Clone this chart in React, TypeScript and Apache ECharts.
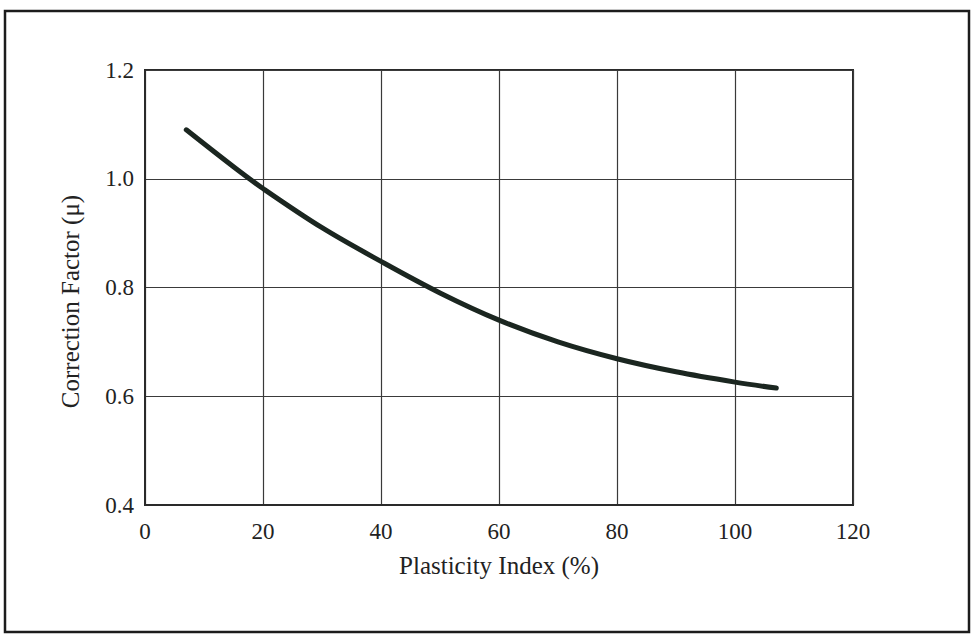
import React, { useEffect, useRef } from "react";
import * as echarts from "echarts";

const plasticityIndex = [7, 15, 20, 30, 40, 50, 60, 70, 80, 90, 100, 107];
const correctionFactor = [1.09, 1.022, 0.982, 0.91, 0.848, 0.79, 0.74, 0.7, 0.669, 0.645, 0.626, 0.615];
const xTicks = [0, 20, 40, 60, 80, 100, 120];
const yTicks = [0.4, 0.6, 0.8, 1.0, 1.2];
const xTitle = "Plasticity Index (%)";
const yTitle = "Correction Factor (μ)";

export default function App() {
  const ref = useRef<HTMLDivElement>(null);
  useEffect(() => {
    document.body.style.margin = "0";
    const chart = echarts.init(ref.current!, null, { renderer: "svg" });
    const font = "'Liberation Serif', 'DejaVu Serif', serif";
    chart.setOption({
      animation: false,
      backgroundColor: "#ffffff",
      textStyle: { fontFamily: font },
      graphic: [
        {
          type: "rect",
          shape: { x: 5, y: 11, width: 964, height: 621 },
          style: { fill: "none", stroke: "#1c1c1c", lineWidth: 2.5 },
          silent: true,
        },
      ],
      grid: {
        left: 145,
        right: 121,
        top: 70,
        bottom: 132,
        show: true,
        borderColor: "#2a2a2a",
        borderWidth: 2,
        backgroundColor: "transparent",
      },
      xAxis: {
        type: "value",
        min: xTicks[0],
        max: xTicks[xTicks.length - 1],
        interval: 20,
        name: xTitle,
        nameLocation: "middle",
        nameGap: 48,
        nameTextStyle: { fontFamily: font, fontSize: 25, color: "#222" },
        axisLine: { show: true, lineStyle: { color: "#2a2a2a", width: 2 } },
        axisTick: { show: false },
        axisLabel: {
          fontFamily: font,
          fontSize: 23,
          color: "#222",
          margin: 15,
          formatter: (v: number) => String(v),
        },
        splitLine: { show: true, lineStyle: { color: "#3a3a3a", width: 1.2 } },
      },
      yAxis: {
        type: "value",
        min: yTicks[0],
        max: yTicks[yTicks.length - 1],
        interval: 0.2,
        name: yTitle,
        nameLocation: "middle",
        nameGap: 62,
        nameTextStyle: { fontFamily: font, fontSize: 25, color: "#222", padding: [0, 28, 0, 0] },
        axisLine: { show: true, lineStyle: { color: "#2a2a2a", width: 2 } },
        axisTick: { show: false },
        axisLabel: {
          fontFamily: font,
          fontSize: 23,
          color: "#222",
          margin: 11,
          formatter: (v: number) => v.toFixed(1),
        },
        splitLine: { show: true, lineStyle: { color: "#3a3a3a", width: 1.2 } },
      },
      series: [
        {
          type: "line",
          data: plasticityIndex.map((x, i) => [x, correctionFactor[i]]),
          smooth: 0.35,
          showSymbol: false,
          symbol: "none",
          lineStyle: { color: "#1b2620", width: 5, cap: "round" },
        },
      ],
    });
    return () => chart.dispose();
  }, []);
  return <div ref={ref} style={{ position: "fixed", left: 0, top: 0, width: 974, height: 637 }} />;
}
